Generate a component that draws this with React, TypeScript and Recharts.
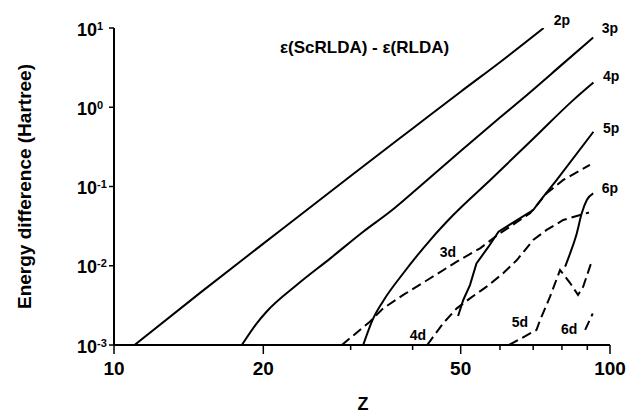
import React from 'react';
import { LineChart, Line, XAxis, YAxis, ReferenceDot } from 'recharts';

const FONT = '"Liberation Sans", Arial, Helvetica, sans-serif';

// Series values (Z, energy difference in Hartree)
const z2p = [11, 15, 20, 30, 40, 50, 60, 73.5];
const e2p = [0.001, 0.00468, 0.019, 0.136, 0.54, 1.57, 3.7, 10];

const z3p = [18.1, 19.4, 20.3, 23.35, 27.3, 31.8, 36.0, 41.4, 50, 60, 66.8, 80, 92.5];
const e3p = [0.001, 0.00188, 0.00263, 0.00571, 0.0124, 0.0269, 0.048, 0.101, 0.28, 0.74, 1.3, 3.45, 7.6];

const z4p = [31.8, 33.3, 34.9, 38.3, 43.4, 48.3, 57.3, 70, 84.3, 92.6];
const e4p = [0.001, 0.00215, 0.0036, 0.00804, 0.0211, 0.0436, 0.12, 0.4, 1.23, 2.05];

const z5p = [49.4, 50.6, 52.2, 53.8, 56.9, 59.6, 70.0, 73.4, 78.1, 92.6];
const e5p = [0.00232, 0.0037, 0.00571, 0.0107, 0.0174, 0.0269, 0.0505, 0.0743, 0.121, 0.491];

const z6p = [81.2, 83.1, 85.7, 87.7, 89.8, 92.5];
const e6p = [0.00973, 0.01435, 0.0256, 0.0459, 0.0676, 0.082];

const z3d = [28.8, 32.8, 34.9, 38.3, 43.4, 49.1, 54.7, 60.0, 69.0, 74.5, 80.5, 91.1];
const e3d = [0.001, 0.00197, 0.0029, 0.00428, 0.00695, 0.01125, 0.0166, 0.0257, 0.0459, 0.082, 0.121, 0.187];

const z4d = [42.8, 46.1, 49.1, 52.2, 56.4, 60.9, 64.9, 70.0, 74.5, 80.5, 90.7];
const e4d = [0.001, 0.00188, 0.0029, 0.00388, 0.00545, 0.00804, 0.0118, 0.0211, 0.0283, 0.0378, 0.047];

const z5d = [62.6, 71.1, 72.3, 75.7, 79.3, 83.1, 86.2, 88.3, 91.8];
const e5d = [0.001, 0.00155, 0.00207, 0.00407, 0.00883, 0.00605, 0.00428, 0.00545, 0.01125];

const z6d = [89.1, 92.3];
const e6d = [0.00155, 0.0025];

// Curve labels
const labelText = ['2p', '3p', '4p', '5p', '6p', '3d', '4d', '5d', '6d'];
const labelZ = [80.0, 100, 100.5, 100.5, 100, 47.1, 41.0, 65.8, 82.7];
const labelE = [12.6, 10, 2.48, 0.547, 0.0957, 0.0149, 0.00134, 0.00195, 0.00159];

const titleText = 'ε(ScRLDA) - ε(RLDA)';
const titleZ = 32.0;
const titleE = 5.75;

// Axes
const xTicks = [10, 20, 30, 40, 50, 60, 70, 80, 90, 100];
const xMajorLabels = [10, 20, 50, 100];
const yTicks = [0.001, 0.01, 0.1, 1, 10];
const xTitle = 'Z';
const yTitle = 'Energy difference (Hartree)';

const pts = (zs: number[], es: number[]) => zs.map((z, i) => ({ z, e: es[i] }));

const series = [
  { key: '2p', data: pts(z2p, e2p), dashed: false, type: 'monotone' },
  { key: '3p', data: pts(z3p, e3p), dashed: false, type: 'monotone' },
  { key: '4p', data: pts(z4p, e4p), dashed: false, type: 'monotone' },
  { key: '5p', data: pts(z5p, e5p), dashed: false, type: 'linear' },
  { key: '6p', data: pts(z6p, e6p), dashed: false, type: 'monotone' },
  { key: '3d', data: pts(z3d, e3d), dashed: true, type: 'linear' },
  { key: '4d', data: pts(z4d, e4d), dashed: true, type: 'linear' },
  { key: '5d', data: pts(z5d, e5d), dashed: true, type: 'linear' },
  { key: '6d', data: pts(z6d, e6d), dashed: true, type: 'linear' },
];

const XTick = (props: any) => {
  const { x, y, payload } = props;
  const major = xMajorLabels.includes(payload.value);
  return (
    <g>
      <line x1={x} x2={x} y1={y} y2={y + (major ? 9 : 5)} stroke="#000" strokeWidth={1.5} />
      {major && (
        <text x={x} y={y + 30} textAnchor="middle" fontFamily={FONT} fontWeight="bold" fontSize={19} fill="#000">
          {payload.value}
        </text>
      )}
    </g>
  );
};

const YTick = (props: any) => {
  const { x, y, payload } = props;
  const exp = Math.round(Math.log10(payload.value));
  return (
    <g>
      <line x1={x - 5} x2={x} y1={y} y2={y} stroke="#000" strokeWidth={1.5} />
      <text x={x - 17} y={y + 7.5} textAnchor="end" fontFamily={FONT} fontWeight="bold" fontSize={18} fill="#000">
        10
      </text>
      <text x={x - 17} y={y + 1.5} textAnchor="start" fontFamily={FONT} fontWeight="bold" fontSize={11} fill="#000">
        {exp}
      </text>
    </g>
  );
};

const YLabel = (props: any) => {
  const vb = props.viewBox || { x: 0, y: 28, width: 114, height: 317 };
  const cx = vb.x + 31;
  const cy = vb.y + vb.height / 2;
  return (
    <text x={cx} y={cy} transform={`rotate(-90 ${cx} ${cy})`} textAnchor="middle" fontFamily={FONT} fontWeight="bold" fontSize={19} fill="#000">
      {yTitle}
    </text>
  );
};

const XLabel = (props: any) => {
  const vb = props.viewBox || { x: 114, y: 345, width: 496, height: 70 };
  return (
    <text x={vb.x + vb.width / 2 + 1} y={vb.y + 65} textAnchor="middle" fontFamily={FONT} fontWeight="bold" fontSize={18} fill="#000">
      {xTitle}
    </text>
  );
};

const textShape = (text: string, size: number) => (p: any) => (
  <text x={p.cx} y={p.cy} dy="0.35em" textAnchor="middle" fontFamily={FONT} fontWeight="bold" fontSize={size} fill="#000">
    {text}
  </text>
);

export default function App() {
  return (
    <div style={{ position: 'absolute', left: 0, top: 0, width: 637, height: 415, background: '#fff' }}>
      <LineChart width={637} height={415} margin={{ top: 28, right: 27, bottom: 0, left: 0 }} style={{ fontFamily: FONT }}>
        <XAxis
          dataKey="z"
          type="number"
          scale="log"
          domain={[10, 100]}
          allowDataOverflow
          ticks={xTicks}
          interval={0}
          height={70}
          tickSize={0}
          tickMargin={0}
          tick={<XTick />}
          axisLine={{ stroke: '#000', strokeWidth: 2 }}
          label={{ position: 'center', content: (p: any) => <XLabel {...p} /> }}
        />
        <YAxis
          dataKey="e"
          type="number"
          scale="log"
          domain={[0.001, 10]}
          allowDataOverflow
          ticks={yTicks}
          interval={0}
          width={114}
          tickSize={0}
          tickMargin={0}
          tick={<YTick />}
          axisLine={{ stroke: '#000', strokeWidth: 2 }}
          label={{ position: 'center', content: (p: any) => <YLabel {...p} /> }}
        />
        {series.map((s) => (
          <Line
            key={s.key}
            data={s.data}
            dataKey="e"
            type={s.type as any}
            stroke="#000"
            strokeWidth={2}
            strokeDasharray={s.dashed ? '10 5' : undefined}
            dot={false}
            activeDot={false}
            isAnimationActive={false}
          />
        ))}
        <ReferenceDot x={titleZ} y={titleE} r={0} ifOverflow="visible" shape={textShape(titleText, 17)} />
        {labelText.map((t, i) => (
          <ReferenceDot key={t} x={labelZ[i]} y={labelE[i]} r={0} ifOverflow="visible" shape={textShape(t, 14)} />
        ))}
      </LineChart>
    </div>
  );
}
